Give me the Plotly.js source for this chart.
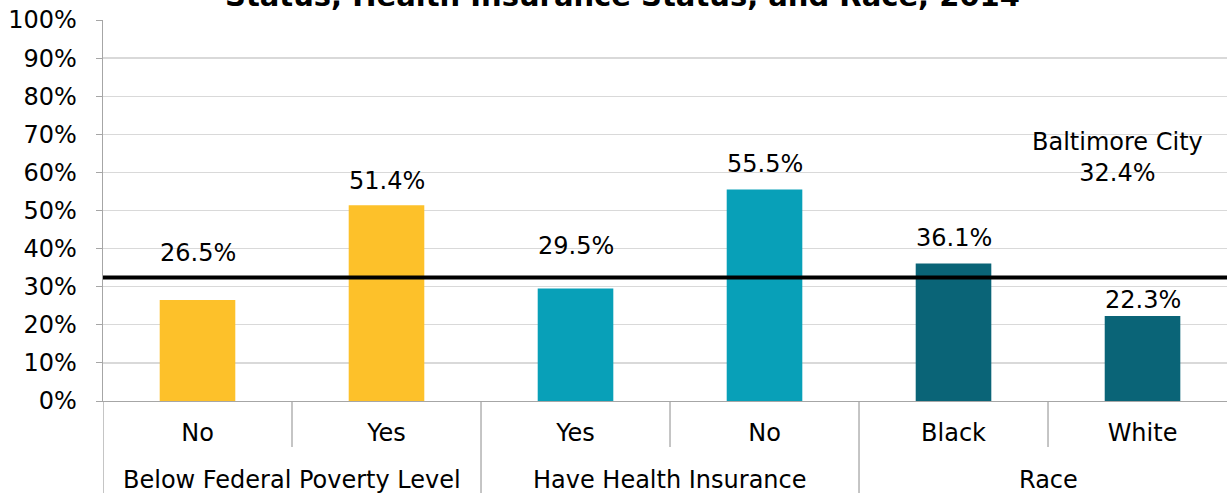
<!DOCTYPE html>
<html>
<head>
<meta charset="utf-8">
<script src="https://cdn.plot.ly/plotly-3.0.1.min.js"></script>
<style>html,body{margin:0;padding:0;background:#fff;}#chart{width:1227px;height:493px;}</style>
</head>
<body>
<div id="chart"></div>
<script>
// ---- data ----
const categories = ["No", "Yes", "Yes", "No", "Black", "White"];
const groups = ["Below Federal Poverty Level", "Have Health Insurance", "Race"];
const groupSizes = [2, 2, 2];
const values = [26.5, 51.4, 29.5, 55.5, 36.1, 22.3];
const valueLabels = ["26.5%", "51.4%", "29.5%", "55.5%", "36.1%", "22.3%"];
const yTickVals = [0, 10, 20, 30, 40, 50, 60, 70, 80, 90, 100];
const yTickText = ["0%", "10%", "20%", "30%", "40%", "50%", "60%", "70%", "80%", "90%", "100%"];
const cityValue = 32.4;
const cityLabel = "Baltimore City<br>32.4%";
const titleText = "Status, Health Insurance Status, and Race, 2014";

// ---- style ----
const groupColors = ["#FDC12A", "#08A0B8", "#0A6477"];
const labelShifts = [47, 24, 43, 26, 25, 16];
const FONT = "DejaVu Sans, Verdana, sans-serif";
const FS = 24;

const xIdx = categories.map((_, i) => i);
const barColors = [];
groupSizes.forEach((n, g) => { for (let k = 0; k < n; k++) barColors.push(groupColors[g]); });

const trace = {
  type: "bar",
  x: xIdx,
  y: values,
  width: 0.4,
  marker: { color: barColors },
  hoverinfo: "skip"
};

const annotations = [];
values.forEach((v, i) => {
  annotations.push({
    x: i, y: v, xref: "x", yref: "y", text: valueLabels[i],
    showarrow: false, yanchor: "middle", yshift: labelShifts[i],
    font: { family: FONT, size: FS, color: "#000" }
  });
});
// group labels
let start = 0;
groups.forEach((g, gi) => {
  const center = start + (groupSizes[gi] - 1) / 2;
  annotations.push({
    x: center, y: 0, xref: "x", yref: "paper", text: g, showarrow: false,
    yanchor: "middle", yshift: -79, font: { family: FONT, size: FS, color: "#000" }
  });
  start += groupSizes[gi];
});
annotations.push({
  x: 4.87, y: cityValue, xref: "x", yref: "y", text: cityLabel, showarrow: false,
  yanchor: "middle", yshift: 120, font: { family: FONT, size: FS, color: "#000" }
});
annotations.push({
  x: 2.25, y: 1, xref: "x", yref: "paper", text: "<b>" + titleText + "</b>", showarrow: false,
  yanchor: "bottom", yshift: 5, font: { family: FONT, size: 29, color: "#000" }
});

// dividers
const shapes = [];
let pos = 0;
const bounds = [];
groupSizes.forEach((n) => {
  bounds.push({ x: pos - 0.5, long: true });
  for (let k = 1; k < n; k++) bounds.push({ x: pos + k - 0.5, long: false });
  pos += n;
});
bounds.forEach(b => {
  shapes.push({
    type: "line", xref: "x", yref: "paper", x0: b.x, x1: b.x, y0: 0,
    y1: b.long ? -0.26 : -0.121, line: { color: "#A6A6A6", width: 1.3 }
  });
});
shapes.push({
  type: "line", xref: "paper", yref: "y", x0: 0, x1: 1, y0: cityValue, y1: cityValue,
  line: { color: "#000", width: 4 }
});

const layout = {
  width: 1227, height: 493,
  margin: { l: 103, r: 0, t: 20, b: 92 },
  paper_bgcolor: "#fff", plot_bgcolor: "#fff",
  showlegend: false,
  font: { family: FONT, size: FS, color: "#000" },
  xaxis: {
    range: [-0.5, 5.447], tickvals: xIdx, ticktext: categories,
    showgrid: false, zeroline: false, showline: true, linecolor: "#A6A6A6", linewidth: 1.3,
    ticks: "", tickfont: { family: FONT, size: FS, color: "#000" }, ticklabelstandoff: 10
  },
  yaxis: {
    range: [0, 100], tickvals: yTickVals, ticktext: yTickText,
    showgrid: true, gridcolor: "#D9D9D9", gridwidth: 1.3,
    zeroline: false, showline: true, linecolor: "#A6A6A6", linewidth: 1.3,
    ticks: "outside", ticklen: 6, tickcolor: "#A6A6A6", ticklabelstandoff: 14,
    tickfont: { family: FONT, size: FS, color: "#000" }
  },
  annotations: annotations,
  shapes: shapes
};

Plotly.newPlot("chart", [trace], layout, { displayModeBar: false, staticPlot: true });
</script>
</body>
</html>
